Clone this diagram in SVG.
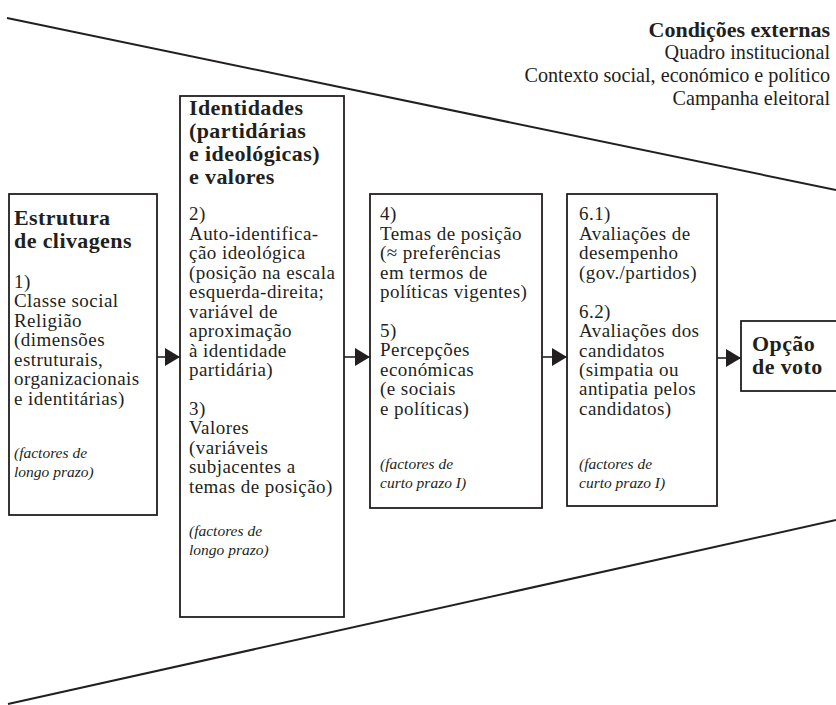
<svg xmlns="http://www.w3.org/2000/svg" width="836" height="705" viewBox="0 0 836 705">
<style>
.box{fill:#fff;stroke:#231f20;stroke-width:1.8}
.fun{fill:none;stroke:#231f20;stroke-width:2}
.ln{stroke:#231f20;stroke-width:1.6;fill:none}
text{font-family:"Liberation Serif","Times New Roman",serif;fill:#231f20}
.h{font-weight:bold;font-size:22px;letter-spacing:0.4px}
.t{font-size:19px;letter-spacing:0.45px}
.i{font-style:italic;font-size:15.5px}
.r{font-size:20.2px;text-anchor:end}
.rb{font-size:22px;font-weight:bold;text-anchor:end}
</style>
<defs>
<marker id="ah" viewBox="0 0 15 18" refX="15" refY="9" markerWidth="15" markerHeight="18" markerUnits="userSpaceOnUse" orient="auto">
<path d="M0,0 L15,9 L0,18 Z" fill="#231f20"/>
</marker>
</defs>
<g id="funnel">
<line class="fun" x1="7" y1="18" x2="836" y2="190"/>
<line class="fun" x1="8" y1="704" x2="836" y2="520"/>
</g>
<g id="external">
<text class="rb" x="830" y="37">Condições externas</text>
<text class="r" x="830" y="59">Quadro institucional</text>
<text class="r" x="830" y="82">Contexto social, económico e político</text>
<text class="r" x="830" y="105">Campanha eleitoral</text>
</g>
<g id="connectors">
<line class="ln" x1="157" y1="357" x2="180" y2="357" marker-end="url(#ah)"/>
<line class="ln" x1="344" y1="357" x2="370" y2="357" marker-end="url(#ah)"/>
<line class="ln" x1="542" y1="357" x2="567" y2="357" marker-end="url(#ah)"/>
<line class="ln" x1="717" y1="358" x2="741" y2="358" marker-end="url(#ah)"/>
</g>
<g id="n1">
<rect class="box" x="9" y="194" width="148" height="321"/>
<text class="h" x="14" y="225">Estrutura</text>
<text class="h" x="14" y="248">de clivagens</text>
<text class="t" x="14" y="288">1)</text>
<text class="t" x="14" y="307">Classe social</text>
<text class="t" x="14" y="327">Religião</text>
<text class="t" x="14" y="346">(dimensões</text>
<text class="t" x="14" y="366">estruturais,</text>
<text class="t" x="14" y="385">organizacionais</text>
<text class="t" x="14" y="405">e identitárias)</text>
<text class="i" x="14" y="458">(factores de</text>
<text class="i" x="14" y="477">longo prazo)</text>
</g>
<g id="n2">
<rect class="box" x="180" y="96" width="164" height="521"/>
<text class="h" x="189" y="115">Identidades</text>
<text class="h" x="189" y="138">(partidárias</text>
<text class="h" x="189" y="161">e ideológicas)</text>
<text class="h" x="189" y="184">e valores</text>
<text class="t" x="189" y="220">2)</text>
<text class="t" x="189" y="240">Auto-identifica-</text>
<text class="t" x="189" y="259">ção ideológica</text>
<text class="t" x="189" y="279">(posição na escala</text>
<text class="t" x="189" y="298">esquerda-direita;</text>
<text class="t" x="189" y="318">variável de</text>
<text class="t" x="189" y="337">aproximação</text>
<text class="t" x="189" y="357">à identidade</text>
<text class="t" x="189" y="376">partidária)</text>
<text class="t" x="189" y="415">3)</text>
<text class="t" x="189" y="434">Valores</text>
<text class="t" x="189" y="454">(variáveis</text>
<text class="t" x="189" y="473">subjacentes a</text>
<text class="t" x="189" y="493">temas de posição)</text>
<text class="i" x="189" y="536">(factores de</text>
<text class="i" x="189" y="555">longo prazo)</text>
</g>
<g id="n3">
<rect class="box" x="370" y="194" width="172" height="314"/>
<text class="t" x="380" y="220">4)</text>
<text class="t" x="380" y="240">Temas de posição</text>
<text class="t" x="380" y="259">(≈ preferências</text>
<text class="t" x="380" y="279">em termos de</text>
<text class="t" x="380" y="298">políticas vigentes)</text>
<text class="t" x="380" y="337">5)</text>
<text class="t" x="380" y="356">Percepções</text>
<text class="t" x="380" y="376">económicas</text>
<text class="t" x="380" y="395">(e sociais</text>
<text class="t" x="380" y="415">e políticas)</text>
<text class="i" x="380" y="469">(factores de</text>
<text class="i" x="380" y="488">curto prazo I)</text>
</g>
<g id="n4">
<rect class="box" x="567" y="194" width="150" height="312"/>
<text class="t" x="579" y="220">6.1)</text>
<text class="t" x="579" y="240">Avaliações de</text>
<text class="t" x="579" y="259">desempenho</text>
<text class="t" x="579" y="279">(gov./partidos)</text>
<text class="t" x="579" y="318">6.2)</text>
<text class="t" x="579" y="337">Avaliações dos</text>
<text class="t" x="579" y="357">candidatos</text>
<text class="t" x="579" y="376">(simpatia ou</text>
<text class="t" x="579" y="395">antipatia pelos</text>
<text class="t" x="579" y="415">candidatos)</text>
<text class="i" x="579" y="469">(factores de</text>
<text class="i" x="579" y="488">curto prazo I)</text>
</g>
<g id="n5">
<rect class="box" x="741" y="321" width="110" height="70"/>
<text class="h" x="752" y="351">Opção</text>
<text class="h" x="752" y="374">de voto</text>
</g>
</svg>
